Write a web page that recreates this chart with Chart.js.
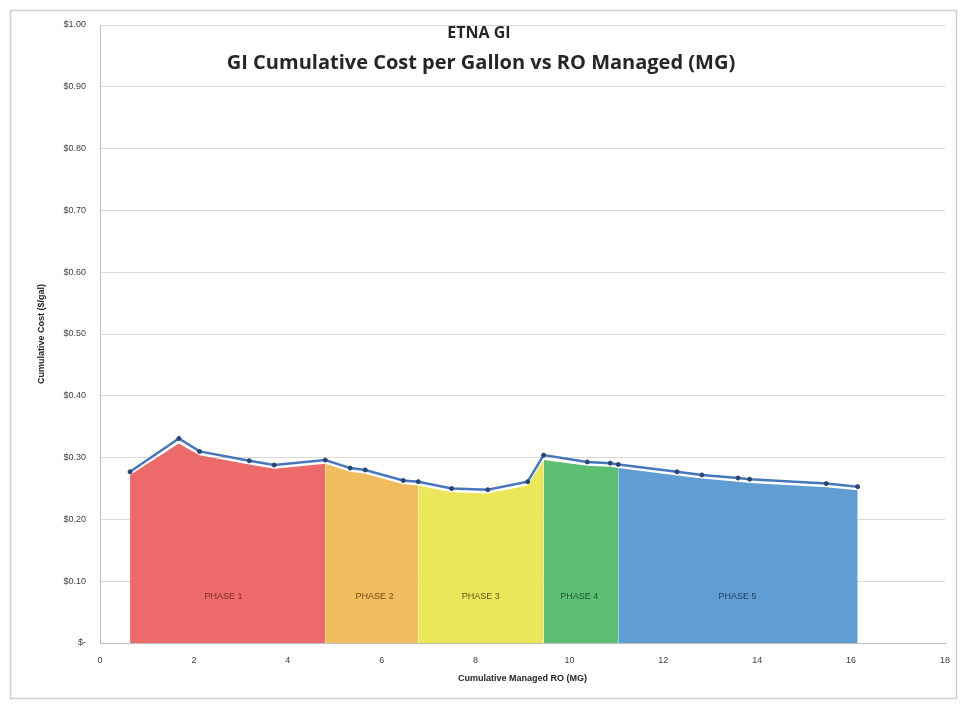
<!DOCTYPE html>
<html>
<head>
<meta charset="utf-8">
<script src="https://cdn.jsdelivr.net/npm/chart.js@4/dist/chart.umd.min.js"></script>
<style>
  html, body { margin: 0; padding: 0; background: #ffffff; }
  #wrap { width: 966px; height: 709px; position: relative; }
</style>
</head>
<body>
<div id="wrap"><canvas id="c" width="966" height="709"></canvas></div>
<script>
// ---- Data ----
const titleLines = ["ETNA GI", "GI Cumulative Cost per Gallon vs RO Managed (MG)"];
const xAxisTitle = "Cumulative Managed RO (MG)";
const yAxisTitle = "Cumulative Cost ($/gal)";
const xTicks = [0, 2, 4, 6, 8, 10, 12, 14, 16, 18];
const yTicks = [0, 0.1, 0.2, 0.3, 0.4, 0.5, 0.6, 0.7, 0.8, 0.9, 1.0];

// cumulative managed RO (MG) and cumulative cost ($/gal) - line with markers
const roManaged = [0.64, 1.68, 2.12, 3.18, 3.71, 4.80, 5.33, 5.65, 6.46, 6.78, 7.49, 8.26, 9.11, 9.45, 10.38, 10.87, 11.04, 12.29, 12.82, 13.59, 13.84, 15.47, 16.14];
const costPerGal = [0.277, 0.331, 0.310, 0.295, 0.288, 0.296, 0.283, 0.280, 0.263, 0.261, 0.250, 0.248, 0.261, 0.304, 0.293, 0.291, 0.289, 0.277, 0.272, 0.267, 0.265, 0.258, 0.253];

// phase area series (x, y)
const phaseNames = ["PHASE 1", "PHASE 2", "PHASE 3", "PHASE 4", "PHASE 5"];
const phase1X = [0.64, 1.68, 2.12, 3.18, 3.71, 4.80];
const phase1Y = [0.272, 0.323, 0.304, 0.289, 0.282, 0.290];
const phase2X = [4.80, 5.33, 5.65, 6.46, 6.78];
const phase2Y = [0.290, 0.277, 0.274, 0.257, 0.255];
const phase3X = [6.78, 7.49, 8.26, 9.11, 9.45];
const phase3Y = [0.255, 0.244, 0.242, 0.255, 0.296];
const phase4X = [9.45, 10.38, 10.87, 11.04];
const phase4Y = [0.296, 0.287, 0.285, 0.283];
const phase5X = [11.04, 12.29, 12.82, 13.59, 13.84, 15.47, 16.14];
const phase5Y = [0.283, 0.271, 0.266, 0.261, 0.259, 0.252, 0.247];

// phase label anchor positions (data coords)
const phaseLabelX = [2.63, 5.85, 8.11, 10.21, 13.58];
const phaseLabelY = [0.076, 0.076, 0.076, 0.076, 0.076];

// ---- Styles ----
const phaseFill = ["#ec6a6a", "#f0bc5e", "#ebe65a", "#5ebf74", "#5f9dd2"];
const phaseText = ["#7e2a30", "#6e5018", "#5f5d18", "#1b5530", "#213f66"];

const zip = (xs, ys) => xs.map((x, i) => ({ x: x, y: ys[i] }));
const phaseXs = [phase1X, phase2X, phase3X, phase4X, phase5X];
const phaseYs = [phase1Y, phase2Y, phase3Y, phase4Y, phase5Y];

const datasets = phaseXs.map((xs, i) => ({
  label: phaseNames[i],
  data: zip(xs, phaseYs[i]),
  showLine: true,
  fill: 'origin',
  backgroundColor: phaseFill[i],
  borderColor: 'rgba(0,0,0,0)',
  borderWidth: 0,
  pointRadius: 0,
  tension: 0,
  order: 2
}));
datasets.push({
  label: "Cumulative Cost",
  data: zip(roManaged, costPerGal),
  showLine: true,
  fill: false,
  borderColor: "#4677bd",
  borderWidth: 2.5,
  pointRadius: 2,
  pointBackgroundColor: "#2b4470",
  pointBorderColor: "#2b4470",
  pointBorderWidth: 1,
  tension: 0,
  order: 1
});

const framePlugin = {
  id: 'frame',
  beforeDraw(chart) {
    const ctx = chart.ctx;
    ctx.save();
    ctx.fillStyle = '#ffffff';
    ctx.fillRect(0, 0, chart.width, chart.height);
    ctx.strokeStyle = '#cfcfcf';
    ctx.lineWidth = 1.5;
    ctx.strokeRect(10.5, 10.5, 946, 688);
    ctx.restore();
  },
  afterDatasetsDraw(chart) {
    const ctx = chart.ctx;
    const xs = chart.scales.x, ys = chart.scales.y;
    ctx.save();
    ctx.font = '9px "Liberation Sans", Arial, sans-serif';
    ctx.textAlign = 'center';
    ctx.textBaseline = 'middle';
    phaseNames.forEach((name, i) => {
      ctx.fillStyle = phaseText[i];
      ctx.fillText(name, xs.getPixelForValue(phaseLabelX[i]), ys.getPixelForValue(phaseLabelY[i]));
    });
    // title overlaid on plot area
    ctx.fillStyle = '#262626';
    ctx.font = 'bold 16px "Open Sans", sans-serif';
    ctx.fillText(titleLines[0], 479, 33);
    ctx.font = 'bold 20px "Open Sans", sans-serif';
    ctx.fillText(titleLines[1], 481, 63);
    ctx.restore();
  }
};

new Chart(document.getElementById('c'), {
  type: 'line',
  data: { datasets: datasets },
  plugins: [framePlugin],
  options: {
    responsive: false,
    animation: false,
    devicePixelRatio: 1,
    layout: { padding: { left: 32, right: 21, top: 25, bottom: 21 } },
    plugins: { legend: { display: false }, title: { display: false }, tooltip: { enabled: false } },
    scales: {
      x: {
        type: 'linear',
        min: 0, max: 18,
        afterBuildTicks(scale) { scale.ticks = xTicks.map(v => ({ value: v })); },
        afterFit(scale) { scale.height = 45; },
        grid: { display: false, drawTicks: false },
        border: { display: true, color: '#bfbfbf', width: 1 },
        ticks: { padding: 12, color: '#404040', font: { size: 9, family: '"Liberation Sans", Arial, sans-serif' } },
        title: { display: true, text: xAxisTitle, color: '#262626', font: { size: 9, weight: 'bold', family: '"Liberation Sans", Arial, sans-serif' } }
      },
      y: {
        min: 0, max: 1,
        afterBuildTicks(scale) { scale.ticks = yTicks.map(v => ({ value: v })); },
        afterFit(scale) { scale.width = 68; },
        grid: { color: '#d9d9d9', lineWidth: 1, drawTicks: false },
        border: { display: true, color: '#bfbfbf', width: 1 },
        ticks: {
          padding: 14, color: '#404040',
          font: { size: 9, family: '"Liberation Sans", Arial, sans-serif' },
          callback: v => v === 0 ? '$-' : '$' + Number(v).toFixed(2)
        },
        title: { display: true, text: yAxisTitle, color: '#262626', font: { size: 9, weight: 'bold', family: '"Liberation Sans", Arial, sans-serif' } }
      }
    }
  }
});
</script>
</body>
</html>
